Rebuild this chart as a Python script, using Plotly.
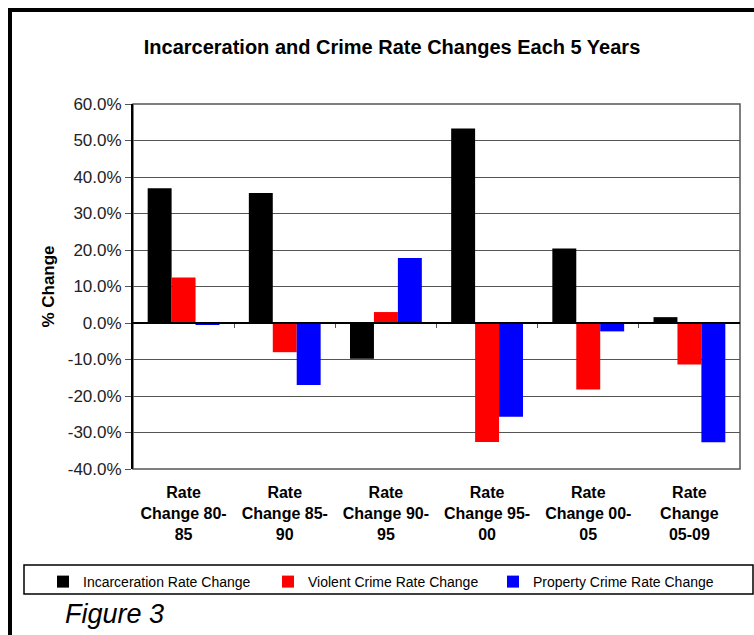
import plotly.graph_objects as go

categories = ["Rate<br>Change 80-<br>85", "Rate<br>Change 85-<br>90", "Rate<br>Change 90-<br>95",
              "Rate<br>Change 95-<br>00", "Rate<br>Change 00-<br>05", "Rate<br>Change<br>05-09"]
incarceration = [36.9, 35.6, -9.8, 53.3, 20.4, 1.6]
violent = [12.5, -8.0, 3.0, -32.6, -18.2, -11.4]
property_crime = [-0.3, -17.0, 17.8, -25.7, -2.3, -32.7]
ytick_vals = [-40, -30, -20, -10, 0, 10, 20, 30, 40, 50, 60]
ytick_text = ["-40.0%", "-30.0%", "-20.0%", "-10.0%", "0.0%", "10.0%", "20.0%", "30.0%", "40.0%", "50.0%", "60.0%"]
series_names = ["Incarceration Rate Change", "Violent Crime Rate Change", "Property Crime Rate Change"]

W, H = 754, 635
L, R, T, B = 133, 14, 104, 166
PW, PH = W - L - R, H - T - B
def px(x):
    return (x - L) / PW
def py(y):
    return (H - B - y) / PH

FONT = "Liberation Sans, Arial, sans-serif"

fig = go.Figure()
for name, vals, col in zip(series_names, [incarceration, violent, property_crime], ["#000000", "#FF0000", "#0000FF"]):
    fig.add_trace(go.Bar(x=list(range(len(categories))), y=vals, name=name, marker=dict(color=col, line=dict(width=0))))

fig.update_layout(
    width=W, height=H,
    margin=dict(l=L, r=R, t=T, b=B),
    paper_bgcolor="white", plot_bgcolor="white",
    barmode="group", bargap=0.29, bargroupgap=0,
    font=dict(family=FONT, color="black"),
    title=dict(text="<b>Incarceration and Crime Rate Changes Each 5 Years</b>",
               font=dict(size=20, family=FONT, color="black"),
               x=px(392), xref="paper", xanchor="center", y=1 - 47 / H, yref="container", yanchor="middle"),
    xaxis=dict(tickmode="array", tickvals=list(range(len(categories))), ticktext=["<b>%s</b>" % c for c in categories],
               range=[-0.5, 5.5], showgrid=False, zeroline=False, showline=False, ticks="",
               tickfont=dict(size=16, family=FONT, color="black"), ticklabelstandoff=12),
    xaxis2=dict(overlaying="x", anchor="free", position=0.4, range=[-0.5, 5.5],
                showline=True, linecolor="black", linewidth=2, ticks="outside", ticklen=4,
                tickcolor="#555", tickwidth=1, tickmode="array", tickvals=[0.5, 1.5, 2.5, 3.5, 4.5],
                showticklabels=False, showgrid=False, zeroline=False),
    yaxis=dict(range=[-40, 60], tickmode="array", tickvals=ytick_vals, ticktext=ytick_text,
               showgrid=True, gridcolor="#555", gridwidth=1, zeroline=False,
               showline=True, linecolor="black", linewidth=2, ticks="outside", ticklen=6, tickcolor="#555",
               tickfont=dict(size=17, family=FONT, color="#222"),
               title=dict(text="<b>% Change</b>", font=dict(size=17, family=FONT, color="black"), standoff=9)),
    showlegend=True,
    legend=dict(orientation="h", x=px(43), xanchor="left", y=py(566), yanchor="top",
                font=dict(size=14, family=FONT, color="black"), entrywidth=180, entrywidthmode="pixels",
                bgcolor="rgba(0,0,0,0)", borderwidth=0, traceorder="normal"),
    shapes=[
        dict(type="rect", xref="x domain", yref="y domain", x0=0, x1=1, y0=0, y1=1,
             line=dict(color="#555", width=1.5), layer="below"),
        dict(type="rect", xref="paper", yref="paper", x0=px(10), x1=px(762), y0=py(10), y1=py(645),
             line=dict(color="black", width=4)),
        dict(type="rect", xref="paper", yref="paper", x0=px(24), x1=px(753), y0=py(565), y1=py(594),
             line=dict(color="black", width=1.5)),
    ],
    annotations=[
        dict(text="<i>Figure 3</i>", xref="paper", yref="paper", x=px(63), y=py(614), xanchor="left", yanchor="middle",
             showarrow=False, font=dict(size=27, family=FONT, color="black")),
    ],
)
# invisible anchor for the overlay axis so it is drawn
fig.add_trace(go.Scatter(x=[-0.5, 5.5], y=[0, 0], xaxis="x2", mode="lines", line=dict(width=0),
                         showlegend=False, hoverinfo="skip"))

fig.write_html("out.html")
